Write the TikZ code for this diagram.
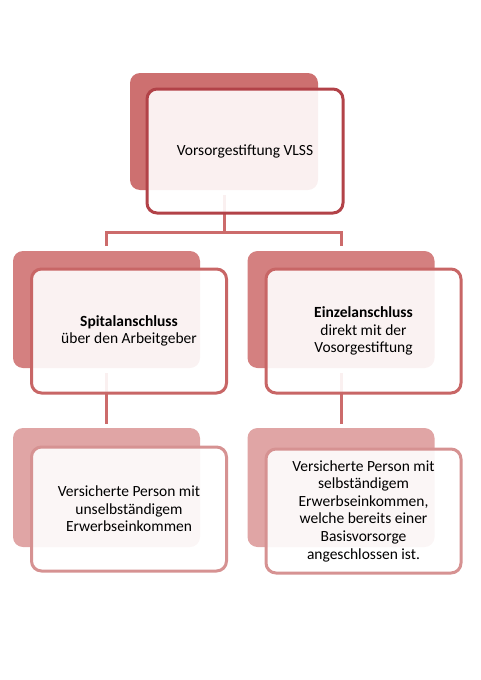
\documentclass[tikz,border=0pt]{standalone}
\usepackage{fontspec}
\setmainfont{Carlito}
\definecolor{backA}{RGB}{205,112,112}
\definecolor{lineA}{RGB}{178,66,72}
\definecolor{backB}{RGB}{212,128,128}
\definecolor{lineB}{RGB}{200,102,102}
\definecolor{backC}{RGB}{224,165,165}
\definecolor{lineC}{RGB}{214,146,146}
\definecolor{connC}{RGB}{204,107,107}
\begin{document}
\begin{tikzpicture}[x=1pt,y=-1pt,
  backbox/.style={rectangle, rounded corners=10pt, minimum width=187pt, minimum height=117pt, outer sep=0pt, inner sep=0pt},
  frontbox/.style={rectangle, rounded corners=10pt, minimum width=195pt, minimum height=124pt, outer sep=0pt, inner sep=2pt, line width=3pt, fill=white, fill opacity=0.9, text opacity=1, align=center, font=\fontsize{15.5}{17.6}\selectfont},
  conn/.style={draw=connC, line width=3pt}]
\useasboundingbox (0,0) rectangle (480,680);
% back boxes
\node[backbox, fill=backA, minimum width=188pt] (tb) at (224,131.5) {};
\node[backbox, fill=backB] (lb) at (106.5,309.5) {};
\node[backbox, fill=backB] (rb) at (341,309.5) {};
\node[backbox, fill=backC, minimum height=119pt] (blb) at (106.5,487.5) {};
\node[backbox, fill=backC, minimum height=119pt] (brb) at (341,487.5) {};
% connectors
\coordinate (bus) at (0,232);
\draw[conn] ([yshift=-5pt]tb.south) -- (bus -| tb.south);
\draw[conn] ([yshift=5pt]lb.north) |- (bus -| tb.south) -| ([yshift=5pt]rb.north);
\draw[conn] ([yshift=-5pt]lb.south) -- ([yshift=4pt]blb.north);
\draw[conn] ([yshift=-5pt]rb.south) -- ([yshift=4pt]brb.north);
% front boxes
\node[frontbox, draw=lineA, minimum width=196pt] (tf) at (245,151) {Vorsorgestiftung VLSS};
\node[frontbox, draw=lineB] (lf) at (129,331) {\textbf{Spitalanschluss}\\über den Arbeitgeber};
\node[frontbox, draw=lineB] (rf) at (363.5,331) {\textbf{Einzelanschluss}\\direkt mit der\\Vosorgestiftung};
\node[frontbox, draw=lineC] (blf) at (129,509) {Versicherte Person mit\\unselbständigem\\Erwerbseinkommen};
\node[frontbox, draw=lineC] (brf) at (363.5,511) {Versicherte Person mit\\selbständigem\\Erwerbseinkommen,\\welche bereits einer\\Basisvorsorge\\angeschlossen ist.};
\end{tikzpicture}
\end{document}
